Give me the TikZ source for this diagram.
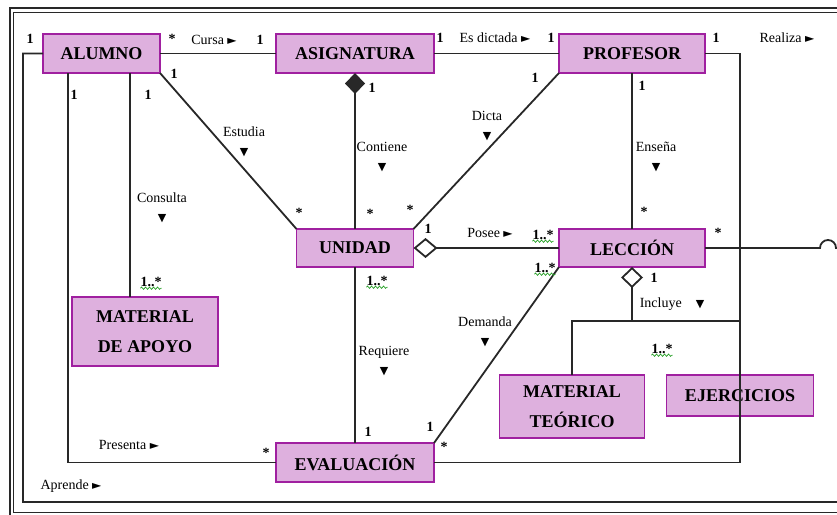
\documentclass[tikz,border=0pt]{standalone}
\usepackage{fontspec}
\setmainfont{Liberation Serif}
\newfontfamily\simbolos{DejaVu Sans}
\usepackage{tikz}
\usetikzlibrary{arrows.meta, positioning, calc, decorations.pathmorphing}
\definecolor{lila}{RGB}{222,176,222}
\definecolor{morado}{RGB}{160,32,160}
\definecolor{linea}{RGB}{40,40,40}
\definecolor{verde}{RGB}{40,160,40}
\newcommand{\der}{{\simbolos\fontsize{12}{12}\selectfont ►}}
\newcommand{\aba}{{\simbolos\fontsize{11}{11}\selectfont ▼}}

\begin{document}
\begin{tikzpicture}[x=1pt,y=-1pt,node distance=100pt,
        clase/.style={draw=morado,fill=lila,line width=1.6pt,inner sep=0pt,outer sep=0pt,align=center,
            font=\fontsize{18}{30}\selectfont\bfseries},
        mult/.style={inner sep=0pt,text height=10pt,text depth=0pt,
            font=\fontsize{14}{14}\selectfont\bfseries},
        rol/.style={inner sep=0pt,align=center,font=\fontsize{14}{14}\selectfont},
        con/.style={draw=linea,line width=1.8pt},
        ondulada/.style={draw=verde,line width=0.7pt,decorate,
            decoration={snake,amplitude=1.2pt,segment length=4pt}}]
        \useasboundingbox (0,0) rectangle (837,514);
        \clip (0,0) rectangle (837,514);
        \draw[draw=linea,line width=1.5pt] (10,8) rectangle (900,516);
        \draw[draw=linea,line width=1.5pt] (13.5,12.5) rectangle (900,512.5);

        \node[clase,minimum width=117pt,minimum height=39pt](ALU) at (101.5,53.5){ALUMNO};
        \node[clase,minimum width=158pt,minimum height=39pt](ASI)[right=116pt of ALU]{ASIGNATURA};
        \node[clase,minimum width=146pt,minimum height=39pt](PRO)[right=125pt of ASI]{PROFESOR};
        \node[clase,minimum width=117pt,minimum height=38pt](UNI)[below=156pt of ASI]{UNIDAD};
        \node[clase,minimum width=146pt,minimum height=38pt](LEC)[below=156pt of PRO]{LECCIÓN};
        \node[clase,minimum width=158pt,minimum height=39pt](EVA)[below=176pt of UNI]{EVALUACIÓN};
        \node[clase,minimum width=146pt,minimum height=69pt](MAT) at (145,331.5){MATERIAL\\DE APOYO};
        \node[clase,minimum width=145pt,minimum height=63pt](TEO) at (572,406.5){MATERIAL\\TEÓRICO};
        \node[clase,minimum width=147pt,minimum height=41pt](EJE) at (740,395.5){EJERCICIOS};

        \coordinate (pre) at ([xshift=25pt]ALU.south west);
        \coordinate (cons) at ([xshift=87pt]ALU.south west);
        \coordinate (ram) at ([yshift=-54pt]LEC.south);
        \coordinate (salto) at ([xshift=115pt]LEC.east);

        \draw[con] (ALU) -- (ASI);
        \draw[con] (ASI) -- (PRO);
        \draw[con] (PRO.east) -- ++(35,0) |- (EVA.east);
        \draw[con] (LEC.east) -- (salto) arc[start angle=180,end angle=360,radius=8]
            -- ++(70,0) |- (23,502) |- (ALU.west);
        \draw[con] (pre) |- (EVA.west);
        \draw[con] (cons) -- (cons |- MAT.north);
        \draw[con] (ALU.south east) -- (UNI.north west);
        \draw[con,{Diamond[length=21pt,width=20pt]}-] (ASI.south) -- (UNI.north);
        \draw[con] (PRO.south west) -- (UNI.north east);
        \draw[con] (PRO) -- (LEC);
        \draw[con,{Diamond[open,fill=white,length=24pt,width=20pt]}-] (UNI.east) -- (LEC.west);
        \draw[con] (UNI) -- (EVA);
        \draw[con] (LEC.south west) -- (EVA.north east);
        \draw[con,{Diamond[open,fill=white,length=21pt,width=22pt]}-] (LEC.south) -- (ram);
        \draw[con] (TEO.north) |- (ram) -| (EJE.north);

        \node[mult](m1) at (30,38){1};
        \node[mult](m2) at (172,38){*};
        \node[rol](cursa) at (214,40){Cursa \der};
        \node[mult](m3) at (260,39){1};
        \node[mult](m4) at (440,37){1};
        \node[rol](dictada) at (495,38){Es dictada \der};
        \node[mult](m5) at (551,37){1};
        \node[mult](m6) at (716,37){1};
        \node[rol](realiza) at (787,38){Realiza \der};
        \node[mult](m7) at (174,73){1};
        \node[mult](m8) at (74,94){1};
        \node[mult](m9) at (148,94){1};
        \node[rol](estudia) at (244,142){Estudia\\[5pt]\aba};
        \node[mult](m10) at (372,87){1};
        \node[rol](contiene) at (382,157){Contiene\\[5pt]\aba};
        \node[rol](consulta) at (162,208){Consulta\\[5pt]\aba};
        \node[mult](m11) at (299,212){*};
        \node[mult](m12) at (370,213){*};
        \node[mult](m13) at (410,209){*};
        \node[rol](dicta) at (487,126){Dicta\\[5pt]\aba};
        \node[mult](m14) at (535,77){1};
        \node[mult](m15) at (642,85){1};
        \node[rol](ensena) at (656,157){Enseña\\[5pt]\aba};
        \node[mult](m16) at (644,211){*};
        \node[mult](m17) at (718,232){*};
        \node[mult](m18) at (428,228){1};
        \node[rol](posee) at (490,233){Posee \der};
        \node[rol](requiere) at (384,361){Requiere\\[5pt]\aba};
        \node[mult](m19) at (368,431){1};
        \node[rol](presenta) at (129,445){Presenta \der};
        \node[mult](m20) at (266,452){*};
        \node[rol](aprende) at (71,486){Aprende \der};
        \node[rol](demanda) at (485,332){Demanda\\[5pt]\aba};
        \node[mult](m21) at (430,426){1};
        \node[mult](m22) at (444,446){*};
        \node[mult](m23) at (654,277){1};
        \node[rol](incluye) at (672,304){Incluye\quad\aba};

        \node[mult](v1) at (543,234){1..*};
        \node[mult](v2) at (377,280){1..*};
        \node[mult](v3) at (151,281){1..*};
        \node[mult](v4) at (545,267){1..*};
        \node[mult](v5) at (662,348){1..*};
        \foreach \v in {v1,v2,v3,v4,v5}
            \draw[ondulada] ([yshift=-2pt]\v.south west) -- ([yshift=-2pt]\v.south east);
\end{tikzpicture}
\end{document}
